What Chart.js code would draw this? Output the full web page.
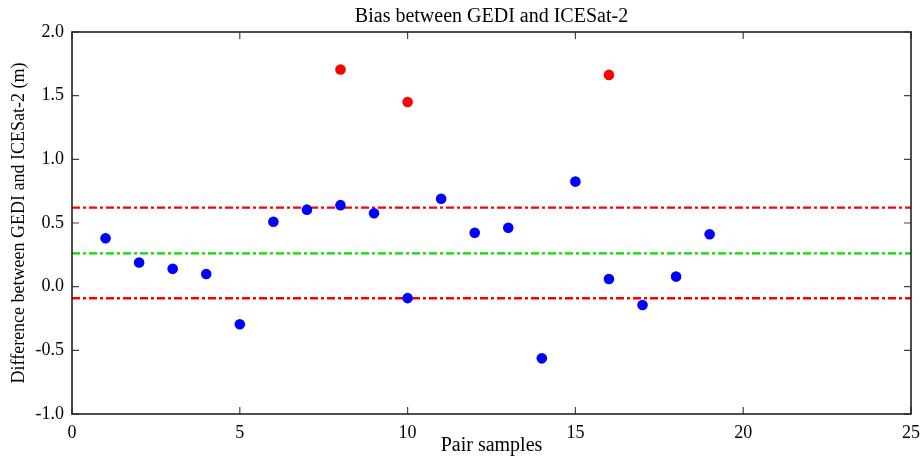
<!DOCTYPE html>
<html>
<head>
<meta charset="utf-8">
<script src="https://cdn.jsdelivr.net/npm/chart.js@4/dist/chart.umd.min.js"></script>
<style>
  html, body { margin: 0; padding: 0; background: #fff; }
  #wrap { width: 921px; height: 462px; }
</style>
</head>
<body>
<div id="wrap"><canvas id="biasChart" width="921" height="462"></canvas></div>
<script>
// pair sample index and GEDI - ICESat-2 difference (m)
const pairIdx = [1, 2, 3, 4, 5, 6, 7, 8, 9, 10, 11, 12, 13, 14, 15, 16, 17, 18, 19];
const diffValues = [0.38, 0.19, 0.14, 0.10, -0.295, 0.51, 0.605, 0.64, 0.577, -0.09, 0.69, 0.424, 0.463, -0.563, 0.825, 0.06, -0.144, 0.079, 0.412];
// outliers (red)
const outlierIdx = [8, 10, 16];
const outlierValues = [1.705, 1.45, 1.663];
// mean bias and limits
const meanBias = 0.262;
const upperLimit = 0.62;
const lowerLimit = -0.091;
const xRange = [0, 25];
const yRange = [-1, 2];

const CTX = document.getElementById('biasChart').getContext('2d');
Chart.defaults.font.family = "'Liberation Serif', 'Times New Roman', serif";
Chart.defaults.color = '#000';

function hLine(val) {
    return xRange.map(x => ({ x: x, y: val }));
}

// box + inward ticks on all four sides
const frameTicks = {
    id: 'frameTicks',
    afterDatasetsDraw(chart) {
        const { ctx, chartArea: a, scales } = chart;
        const len = 7;
        ctx.save();
        ctx.strokeStyle = '#444';
        ctx.lineWidth = 1.2;
        scales.x.ticks.forEach(t => {
            const px = scales.x.getPixelForValue(t.value);
            ctx.beginPath();
            ctx.moveTo(px, a.bottom); ctx.lineTo(px, a.bottom - len);
            ctx.moveTo(px, a.top); ctx.lineTo(px, a.top + len);
            ctx.stroke();
        });
        scales.y.ticks.forEach(t => {
            const py = scales.y.getPixelForValue(t.value);
            ctx.beginPath();
            ctx.moveTo(a.left, py); ctx.lineTo(a.left + len, py);
            ctx.moveTo(a.right, py); ctx.lineTo(a.right - len, py);
            ctx.stroke();
        });
        ctx.strokeStyle = '#222';
        ctx.lineWidth = 1.6;
        ctx.strokeRect(a.left, a.top, a.right - a.left, a.bottom - a.top);
        ctx.restore();
    }
};

let biasChart = new Chart(CTX, {
    type: 'scatter',
    data: {
        datasets: [{
            label: 'Upper limit',
            data: hLine(upperLimit),
            showLine: true,
            borderColor: '#ff0000',
            borderWidth: 2.3,
            borderDash: [8, 3, 3, 3],
            pointRadius: 0,
            order: 2
        }, {
            label: 'Mean bias',
            data: hLine(meanBias),
            showLine: true,
            borderColor: '#00e000',
            borderWidth: 2.3,
            borderDash: [8, 3, 3, 3],
            pointRadius: 0,
            order: 2
        }, {
            label: 'Lower limit',
            data: hLine(lowerLimit),
            showLine: true,
            borderColor: '#ff0000',
            borderWidth: 2.3,
            borderDash: [8, 3, 3, 3],
            pointRadius: 0,
            order: 2
        }, {
            label: 'Differences',
            data: pairIdx.map((x, i) => ({ x: x, y: diffValues[i] })),
            backgroundColor: '#0000ff',
            borderWidth: 0,
            pointRadius: 5.3,
            order: 1
        }, {
            label: 'Outliers',
            data: outlierIdx.map((x, i) => ({ x: x, y: outlierValues[i] })),
            backgroundColor: '#ff0000',
            borderWidth: 0,
            pointRadius: 5.3,
            order: 1
        }]
    },
    options: {
        responsive: false,
        animation: false,
        layout: { padding: { left: 0, right: 10, top: 0, bottom: 0 } },
        plugins: {
            legend: { display: false },
            tooltip: { enabled: false },
            title: {
                display: true,
                text: 'Bias between GEDI and ICESat-2',
                fullSize: false,
                color: '#000',
                font: { size: 20, weight: 'normal', lineHeight: 1.1 },
                padding: { top: 6, bottom: 4 }
            }
        },
        scales: {
            x: {
                type: 'linear',
                min: xRange[0],
                max: xRange[1],
                grid: { display: false, drawTicks: false },
                border: { display: false },
                ticks: { stepSize: 5, padding: 8, font: { size: 18 }, color: '#000' },
                title: {
                    display: true,
                    text: 'Pair samples',
                    font: { size: 20 },
                    color: '#000',
                    padding: { top: 0, bottom: 4 }
                },
                afterFit(scale) {
                    scale.height = 48;
                    scale.paddingLeft = 0;
                    scale.paddingRight = 0;
                }
            },
            y: {
                min: yRange[0],
                max: yRange[1],
                grid: { display: false, drawTicks: false },
                border: { display: false },
                ticks: {
                    stepSize: 0.5,
                    padding: 8,
                    font: { size: 18 },
                    color: '#000',
                    callback: v => v.toFixed(1)
                },
                title: {
                    display: true,
                    text: 'Difference between GEDI and ICESat-2 (m)',
                    font: { size: 18 },
                    color: '#000',
                    padding: { top: 8, bottom: 0 }
                },
                afterFit(scale) {
                    scale.width = 72;
                    scale.paddingTop = 0;
                    scale.paddingBottom = 0;
                }
            }
        }
    },
    plugins: [frameTicks]
});
</script>
</body>
</html>
